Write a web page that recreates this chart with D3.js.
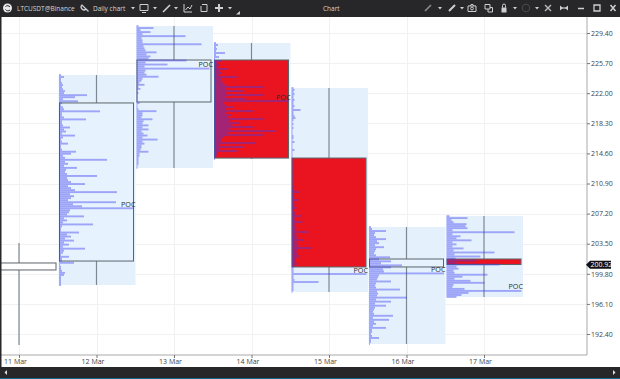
<!DOCTYPE html>
<html><head><meta charset="utf-8">
<script src="https://cdnjs.cloudflare.com/ajax/libs/d3/7.8.5/d3.min.js"></script>
<style>html,body{margin:0;padding:0;background:#fff;overflow:hidden}svg{display:block}text{font-family:"Open Sans","Liberation Sans",sans-serif}</style>
</head><body><svg id="c" width="620" height="379"></svg>
<script>
const days = ["11 Mar","12 Mar","13 Mar","14 Mar","15 Mar","16 Mar","17 Mar"];
const priceTicks = [229.40,225.70,222.00,218.30,214.60,210.90,207.20,203.50,199.80,196.10,192.40];
const highs  = [203.59,224.24,230.26,228.17,222.64,205.55,206.90];
const lows   = [191.05,198.42,212.81,213.91,197.56,191.17,196.95];
const tops   = [201.13,220.80,226.08,226.08,214.03,201.62,201.62];
const bottoms= [200.27,201.37,220.92,214.03,200.64,200.64,200.94];
const bearish= [false,false,false,true,true,false,true];
const lastPrice = 200.92;
const profile12 = [2,5,2,2,3,4,3,4,6,5,28,16,4,19,3,2,4,5,41,3,3,5,27,3,3,4,11,5,7,3,16,4,2,3,9,2,2,3,17,12,4,6,48,6,9,5,18,7,6,8,38,8,9,12,26,9,12,16,58,11,15,12,9,57,14,23,75,11,10,8,25,5,8,4,34,3,2,2,20,8,12,6,15,5,10,4,26,5,4,2,10,3,3,15,1,2,2,3,6,5,2,2,2,2,2];
const profile13 = [2,17,4,14,6,49,5,6,6,65,7,8,9,20,10,14,12,50,9,31,8,73,9,8,10,22,6,5,3,8,2,4,1,2,1,1,1,1,3,1,1,2,20,6,6,5,16,7,6,12,6,12,5,7,11,6,21,6,8,5,5,4,12,3,3,2,2,2,2,1,1];
const profile14 = [2,4,2,3,2,11,2,5,1,7,3,6,4,14,5,8,6,23,7,8,9,12,50,11,30,12,50,12,32,75,10,12,20,11,39,12,18,14,50,16,26,18,39,16,62,14,50,10,8,7,42,6,29,5,24,4,3,2,1];
const profile15 = [2,3,2,3,2,2,3,2,2,3,2,9,2,2,3,4,2,1,2,1,2,1,1,1,2,2,1,3,1,1,1,3,1,1,1,1,1,1,1,1,2,1,1,1,2,1,1,2,1,2,2,3,8,2,2,3,7,2,3,3,5,2,3,4,10,3,4,11,4,3,5,4,17,4,5,6,12,5,6,7,20,6,5,6,8,5,4,4,6,3,2,2,2,75,2,2,3,27,2,2,2,2,1];
const profile16 = [2,3,17,6,5,7,17,8,10,6,15,7,6,5,7,21,10,22,12,33,22,14,15,75,10,9,8,22,7,6,7,31,8,9,8,38,7,22,6,17,6,5,4,5,24,4,20,5,7,4,17,3,3,2,3,10,2,2,1];
const profile17 = [3,21,5,7,20,19,21,6,68,6,14,10,25,6,10,6,17,7,48,8,34,9,30,10,53,10,12,7,8,41,16,8,24,38,7,6,18,75,22,15,10];
const profiles = [[],profile12,profile13,profile14,profile15,profile16,profile17];

const W=620,H=379,L=0,R=587,T=17,B=355;
const svg=d3.select("#c");
const x=d3.scalePoint().domain(days).range([19,484]);
const y=d3.scaleLinear().domain([192.4,229.4]).range([334,33]);
const vol=d3.scaleLinear().domain([0,75]).range([0,75]);

svg.append("defs").append("clipPath").attr("id","plot").append("rect").attr("x",L).attr("y",T).attr("width",R-L).attr("height",B-T);

// grid
const grid=svg.append("g").attr("stroke","#f1f1f1").attr("stroke-width",1);
grid.selectAll(".h").data(priceTicks).join("line").attr("x1",L).attr("x2",R).attr("y1",d=>Math.round(y(d))+.5).attr("y2",d=>Math.round(y(d))+.5);
grid.selectAll(".v").data(days).join("line").attr("x1",d=>Math.round(x(d))+.5).attr("x2",d=>Math.round(x(d))+.5).attr("y1",T).attr("y2",B);

const plot=svg.append("g").attr("clip-path","url(#plot)");
const data=days.map((d,i)=>({day:d,i,hi:highs[i],lo:lows[i],top:tops[i],bot:bottoms[i],bear:bearish[i],prof:profiles[i]}));

// profile backgrounds
plot.selectAll(".bg").data(data.filter(d=>d.prof.length)).join("rect")
 .attr("x",d=>x(d.day)-38).attr("width",77).attr("y",d=>y(d.hi)).attr("height",d=>y(d.lo)-y(d.hi)).attr("fill","#e4f1fd");
// wicks
plot.selectAll(".w").data(data).join("line")
 .attr("x1",d=>x(d.day)).attr("x2",d=>x(d.day)).attr("y1",d=>y(d.hi)).attr("y2",d=>y(d.lo))
 .attr("stroke","#7f8790").attr("stroke-width",1.2);
// bodies
plot.selectAll(".b").data(data).join("rect")
 .attr("x",d=>x(d.day)-37).attr("width",74).attr("y",d=>y(d.top)).attr("height",d=>y(d.bot)-y(d.top))
 .attr("fill",d=>d.bear?"#ea1420":(d.prof.length?"#e6f2fe":"#fff")).attr("stroke","#5d6468").attr("stroke-width",1);
// profiles, then POC labels above every profile
const withProfile=data.filter(d=>d.prof.length);
const rowsOf=d=>d3.scalePoint().domain(d3.range(d.prof.length)).range([y(d.hi),y(d.lo)]);
withProfile.forEach(d=>{
  const rows=rowsOf(d);
  plot.append("g").selectAll("rect").data(d.prof).join("rect")
   .attr("x",x(d.day)-37.5).attr("y",(v,k)=>rows(k)-.95).attr("height",1.9)
   .attr("width",v=>vol(v)).attr("fill","#3c3cf0").attr("fill-opacity",.42);
});
plot.append("g").selectAll("text").data(withProfile).join("text")
  .attr("x",d=>x(d.day)+39).attr("y",d=>rowsOf(d)(d3.maxIndex(d.prof))-1.5).attr("text-anchor","end")
  .attr("font-size",7.2).attr("fill","#2c2c2c").text("POC");

// frame + axes
const ya=svg.append("g").attr("transform",`translate(${R},0)`).call(d3.axisRight(y).tickValues(priceTicks).tickFormat(d3.format(".2f")).tickSize(3).tickPadding(1));
const xa=svg.append("g").attr("transform",`translate(0,${B})`).call(d3.axisBottom(x).tickSize(3).tickPadding(1));
[ya,xa].forEach(a=>{a.selectAll(".domain").attr("stroke","#a9a9a9");a.selectAll("line").attr("stroke","#777");a.selectAll("text").attr("font-size",7).attr("fill","#444");});
ya.select(".domain").attr("d",`M0,${T}V${B}`);
xa.select(".domain").attr("d",`M${L},0H${R}`);
xa.selectAll("text").attr("dx",-4);

// last price tag
const ly=y(lastPrice);
svg.append("path").attr("d",d3.line()([[586,ly],[590,ly-4],[611,ly-4],[611,ly+4],[590,ly+4]])+"Z").attr("fill","#111");
svg.append("text").attr("x",590.5).attr("y",ly+2.5).attr("font-size",7).attr("fill","#fff").text(d3.format(".2f")(lastPrice));

// window chrome
const dark="#27272a";
svg.append("rect").attr("width",W).attr("height",T).attr("fill",dark);
svg.append("rect").attr("width",1.5).attr("height",H).attr("fill",dark);
svg.append("rect").attr("y",367).attr("width",W).attr("height",11).attr("fill",dark);
svg.append("rect").attr("y",378).attr("width",W).attr("height",1).attr("fill","#15668a");
const tb=svg.append("g");
const label=(t,xx)=>tb.append("text").attr("x",xx).attr("y",10.5).attr("font-size",6.5).attr("fill","#d4d4d4").text(t);
label("LTCUSDT@Binance",17);label("Daily chart",93);label("Chart",323);
const ic="#cfcfcf";
const caret=xx=>tb.append("path").attr("d",`M${xx-2},7H${xx+2}L${xx},9.5Z`).attr("fill",ic);
[133,155,176,230,440,462,515,537].forEach(caret);
const stroke=(d,c=ic,w=1)=>tb.append("path").attr("d",d).attr("fill","none").attr("stroke",c).attr("stroke-width",w);
tb.append("circle").attr("cx",7.5).attr("cy",8).attr("r",4.5).attr("fill","#e8e8e8");
stroke("M5.5,6.5A3,3 0 0 1 10,7M5.5,9.5A3,3 0 0 0 10,10",dark,1);
stroke("M82,5A2.6,2.6 0 1 0 86,9ZM85.5,8.5L88.5,11.5",ic,1.2);
stroke("M140,4.5H148V10.5H140ZM142,12.5H146");
stroke("M163,12L170,5",ic,1.6);
stroke("M184,4V12H192M185.5,10L188,7L190,9L192,5");
stroke("M202,4.5H207V11.5H201V6");
stroke("M215,8H223M219,4V12",ic,2);
tb.append("path").attr("d","M236,14.5H240V11Z").attr("fill",ic);
stroke("M425,11L431,5","#8c8c8c",1.6);
stroke("M449,11L455,5",ic,2);
stroke("M468,6H476V11.5H468ZM470,6L471,4.5H473L474,6");tb.append("circle").attr("cx",472).attr("cy",8.5).attr("r",1.4).attr("fill","none").attr("stroke",ic);
stroke("M485,4.5H490V9H485ZM488,9V12H492.5V7.5H490");
tb.append("rect").attr("x",501.5).attr("y",7.5).attr("width",5).attr("height",5).attr("fill",ic);stroke("M502.5,7.5V5.5A1.5,1.5 0 0 1 505.5,5.5V7.5");
tb.append("circle").attr("cx",526).attr("cy",8).attr("r",3.8).attr("fill","none").attr("stroke","#4a4a4a");
stroke("M545,11L551,5M545,5L551,11","#bbb",1.4);
stroke("M560,8H568",ic,1.2);tb.append("path").attr("d","M560,5.5V10.5L563,8ZM568,5.5V10.5L565,8Z").attr("fill",ic);
stroke("M578,8.5H584",ic,1.5);
stroke("M594,5H600V11H594Z",ic,1.3);
stroke("M610.5,5L615.5,11M615.5,5L610.5,11",ic,1.5);
svg.append("path").attr("d","M7,370V375L4.5,372.5Z").attr("fill","#ddd");
svg.append("path").attr("d","M613,370V375L615.5,372.5Z").attr("fill","#ddd");
</script></body></html>
